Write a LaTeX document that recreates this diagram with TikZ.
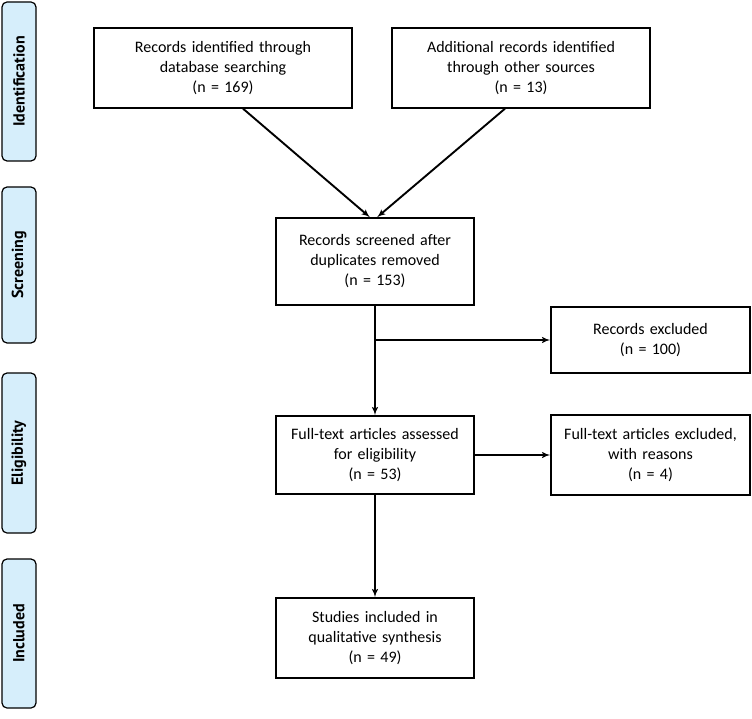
\documentclass[tikz,border=0pt]{standalone}
\usepackage{fontspec}
\setmainfont{Carlito}
\newfontfamily\stagefont{PT Sans}
\usetikzlibrary{shapes, arrows, calc, positioning}
\definecolor{stagefill}{RGB}{214,238,251}
\tikzstyle{line} = [draw, line width=1.9pt, -latex']
\tikzstyle{block} = [rectangle, draw, line width=1.3pt, text centered, inner sep=2pt,
  font=\fontsize{16}{20}\selectfont]
\tikzstyle{stage} = [rectangle, draw, line width=1.2pt, fill=stagefill, rounded corners=5pt,
  minimum width=34pt, font=\stagefont\bfseries\fontsize{16}{18}\selectfont]

\begin{document}
\begin{tikzpicture}[x=1pt, y=-1pt]
\useasboundingbox (0,0) rectangle (752,719);
% phases on the left
\node [stage, minimum height=159pt] (identification) at (19,81.5) {\rotatebox{90}{Identification}};
\node [stage, minimum height=156pt] (screening) at (19,265) {\rotatebox{90}{Screening}};
\node [stage, minimum height=160pt] (eligibility) at (19,453) {\rotatebox{90}{Eligibility}};
\node [stage, minimum height=149pt] (included) at (19,633.5) {\rotatebox{90}{Included}};
% flow boxes
\node [block, minimum width=258pt, minimum height=80pt, text width=240pt] (database) at (223,68)
  {Records identified through\\database searching\\(n = 169)};
\node [block, minimum width=258pt, minimum height=80pt, text width=240pt] (othersources) at (521,68)
  {Additional records identified\\through other sources\\(n = 13)};
\node [block, minimum width=198pt, minimum height=87pt, text width=190pt] (screened) at (375,261.5)
  {Records screened after\\duplicates removed\\(n = 153)};
\node [block, minimum width=199pt, minimum height=66pt, text width=190pt] (recexcluded) at (650.5,340)
  {Records excluded\\(n = 100)};
\node [block, minimum width=198pt, minimum height=78pt, text width=190pt] (fulltext) at (375,455)
  {Full-text articles assessed\\for eligibility\\(n = 53)};
\node [block, minimum width=199pt, minimum height=80pt, text width=190pt] (ftexcluded) at (650.5,455)
  {Full-text articles excluded,\\with reasons\\(n = 4)};
\node [block, minimum width=198pt, minimum height=80pt, text width=190pt] (studies) at (375,638)
  {Studies included in\\qualitative synthesis\\(n = 49)};
% connectors
\coordinate (branch) at (screened.south |- recexcluded.west);
\path [line] ([xshift=20pt]database.south) -- ([xshift=-5pt]screened.north);
\path [line] ([xshift=-16pt]othersources.south) -- ([xshift=2pt]screened.north);
\path [line] (screened) -- (fulltext);
\path [line] (branch) -- (recexcluded);
\path [line] (fulltext) -- (ftexcluded);
\path [line] (fulltext) -- (studies);
\end{tikzpicture}
\end{document}
